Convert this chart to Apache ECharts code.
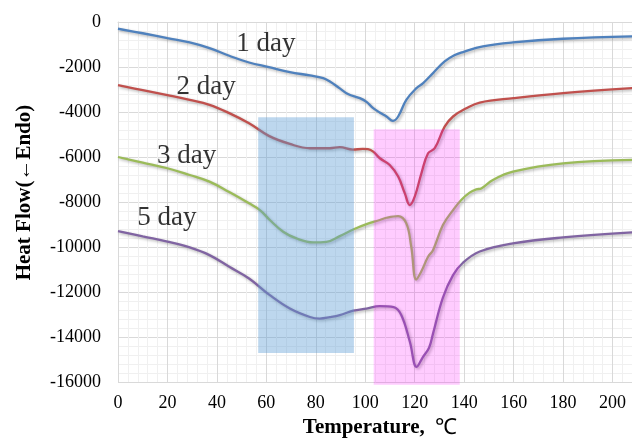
<!DOCTYPE html>
<html>
<head>
<meta charset="utf-8">
<script src="https://cdn.jsdelivr.net/npm/echarts@6/dist/echarts.min.js"></script>
<style>
  html, body { margin: 0; padding: 0; background: #fff; }
  #chart { width: 632px; height: 441px; }
</style>
</head>
<body>
<div id="chart"></div>
<script>
// temperature (°C) and heat flow readings for each curve
const day1Temp = [0, 10, 20, 29, 37, 45, 53, 61, 69.5, 77.6, 83, 85.7, 89.7, 93, 97.8, 100.5, 103.2, 106, 108.6, 111.2, 113.3, 116.6, 120.7, 123.4, 127.4, 132.1, 136, 139.5, 147.6, 159.7, 180, 208]
const day1Flow = [-300, -500, -715, -907, -1160, -1500, -1800, -2005, -2225, -2375, -2495, -2645, -2950, -3200, -3385, -3550, -3830, -4030, -4200, -4395, -4200, -3460, -2940, -2715, -2270, -1755, -1480, -1335, -1085, -910, -745, -640]

const day2Temp = [0, 10, 20, 29, 37, 45, 53, 61, 69.5, 77.6, 85.7, 89.7, 95, 99, 101.1, 103.2, 105.9, 109.9, 113.3, 116, 118, 120, 122.7, 125.4, 128.1, 132.1, 135.5, 140.9, 146.3, 160, 180, 208]
const day2Flow = [-2810, -3030, -3250, -3460, -3680, -4050, -4500, -5060, -5420, -5610, -5610, -5565, -5670, -5640, -5655, -5760, -6055, -6355, -6870, -7615, -8135, -7765, -6725, -5835, -5610, -4650, -4200, -3830, -3580, -3385, -3160, -2940]

const day3Temp = [0, 10, 20, 29, 37, 45, 53, 57.4, 61.4, 66.8, 72.2, 78.9, 84.3, 89.7, 95.1, 100.5, 105.9, 108.6, 113.3, 116.6, 118.6, 120.6, 122.6, 125.4, 127.4, 131.4, 135.5, 138.8, 142.2, 144.9, 146.9, 151.6, 159.7, 180, 208]
const day3Flow = [-6000, -6250, -6500, -6800, -7095, -7560, -8060, -8360, -8800, -9320, -9620, -9795, -9770, -9515, -9220, -8980, -8800, -8700, -8625, -8950, -9990, -11445, -11100, -10435, -10140, -9025, -8360, -7910, -7585, -7440, -7395, -7020, -6650, -6280, -6130]

const day5Temp = [0, 10, 20, 29, 37, 45, 53, 61.4, 69.5, 77.6, 81.6, 85.7, 89.7, 95.1, 100.5, 105.9, 111.5, 114.6, 118, 120.8, 123.3, 125.8, 127.4, 131.4, 135.5, 139.5, 146.3, 159.7, 180, 208]
const day5Flow = [-9290, -9530, -9760, -10020, -10360, -10880, -11400, -12140, -12735, -13110, -13180, -13120, -13030, -12830, -12735, -12630, -12670, -13030, -14200, -15330, -14890, -14480, -13850, -12250, -11250, -10700, -10200, -9840, -9575, -9350]

const seriesNames = ['1 day', '2 day', '3 day', '5 day']
const colors = ['#4F81BD', '#C0504D', '#9BBB59', '#8064A2']

// highlighted temperature ranges: [fromT, toT, topFlow, bottomFlow]
const rangeBoxes = [
  [56.7, 95.4, -4230, -14710],
  [103.4, 138.2, -4765, -16120]
]
const boxColors = ['rgba(91,155,213,0.4)', 'rgba(255,0,255,0.2)']

// where the curve names are written
const noteTemp = [59.8, 35.6, 27.8, 19.8]
const noteFlow = [-966, -2880, -5950, -8710]

const xTicks = { min: 0, max: 220, interval: 20 }
const yTicks = { min: -16000, max: 0, interval: 2000 }

const serif = 'Liberation Serif'
const zip = (a, b) => a.map((v, i) => [v, b[i]])
const temps = [day1Temp, day2Temp, day3Temp, day5Temp]
const flows = [day1Flow, day2Flow, day3Flow, day5Flow]

const lineSeries = seriesNames.map((name, i) => ({
  name: name,
  type: 'line',
  smooth: 0.4,
  showSymbol: false,
  z: 2,
  lineStyle: {
    width: 2.3,
    color: colors[i],
    shadowColor: 'rgba(0,0,0,0.3)',
    shadowBlur: 3,
    shadowOffsetX: 1.5,
    shadowOffsetY: 1.5
  },
  data: zip(temps[i], flows[i])
}))

const chart = echarts.init(document.getElementById('chart'))
chart.setOption({
  animation: false,
  backgroundColor: '#fff',
  // the plot runs past the right edge of the picture, like the cropped original
  grid: { left: 118, top: 22, width: 544, height: 360, outerBoundsMode: 'none', containLabel: false },
  xAxis: {
    type: 'value',
    min: xTicks.min,
    max: xTicks.max,
    interval: xTicks.interval,
    name: 'Temperature,  {c|℃}',
    nameLocation: 'middle',
    nameGap: 35,
    nameTextStyle: {
      fontFamily: serif,
      fontSize: 21,
      fontWeight: 'bold',
      color: '#000',
      padding: [0, 20, 0, 0],
      rich: { c: { fontFamily: serif, fontSize: 22, fontWeight: 'normal', color: '#000' } }
    },
    axisLine: { lineStyle: { color: '#d9d9d9' } },
    axisTick: { show: true, length: 4, lineStyle: { color: '#d9d9d9' } },
    axisLabel: { fontFamily: serif, fontSize: 18, color: '#000', margin: 12 },
    splitLine: { lineStyle: { color: '#d9d9d9' } },
    minorTick: { show: false, splitNumber: 5 },
    minorSplitLine: { show: true, lineStyle: { color: '#f0f0f0' } }
  },
  yAxis: {
    type: 'value',
    min: yTicks.min,
    max: yTicks.max,
    interval: yTicks.interval,
    name: 'Heat Flow(←Endo)',
    nameLocation: 'middle',
    nameGap: 83,
    nameTextStyle: { fontFamily: serif, fontSize: 21, fontWeight: 'bold', color: '#000', padding: [0, 0, 0, 19] },
    axisLine: { show: true, lineStyle: { color: '#d9d9d9' } },
    axisTick: { show: false },
    axisLabel: { fontFamily: serif, fontSize: 18, color: '#000', margin: 17, formatter: v => String(v) },
    splitLine: { lineStyle: { color: '#d9d9d9' } },
    minorTick: { show: false, splitNumber: 5 },
    minorSplitLine: { show: true, lineStyle: { color: '#f0f0f0' } }
  },
  series: lineSeries.concat([
    {
      type: 'custom',
      z: 5,
      clip: false,
      encode: { x: [0, 1], y: [2, 3] },
      renderItem: function (params, api) {
        const p0 = api.coord([api.value(0), api.value(2)])
        const p1 = api.coord([api.value(1), api.value(3)])
        return {
          type: 'rect',
          shape: { x: p0[0], y: p0[1], width: p1[0] - p0[0], height: p1[1] - p0[1] },
          style: { fill: boxColors[params.dataIndex] }
        }
      },
      data: rangeBoxes
    },
    {
      type: 'scatter',
      symbolSize: 0,
      z: 6,
      label: {
        show: true,
        position: 'inside',
        fontFamily: serif,
        fontSize: 27,
        color: '#000',
        formatter: p => seriesNames[p.dataIndex]
      },
      data: zip(noteTemp, noteFlow)
    }
  ])
})
</script>
</body>
</html>
